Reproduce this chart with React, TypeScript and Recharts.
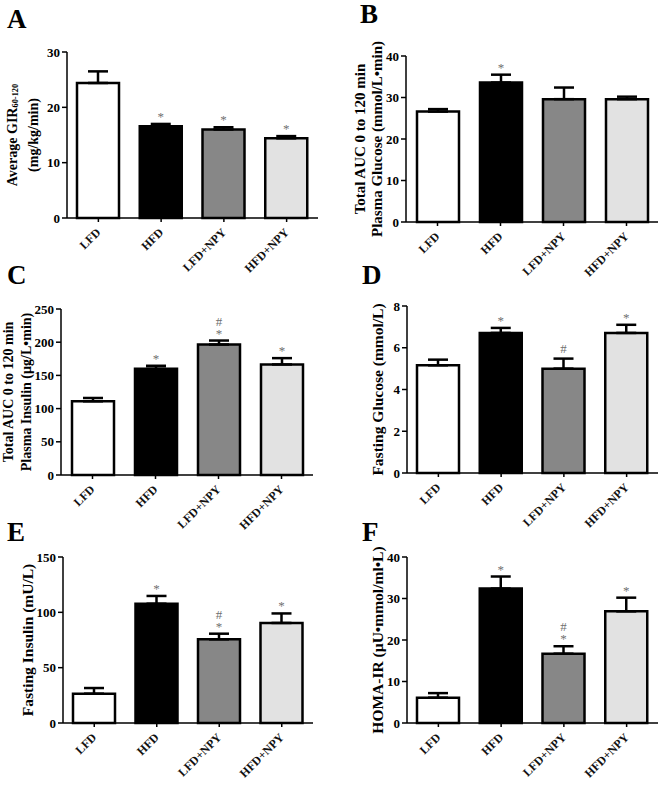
import React from "react";
import { BarChart, Bar, XAxis, YAxis, ErrorBar, Cell, LabelList } from "recharts";

// Groups shared by all six panels
const groups = ["LFD", "HFD", "LFD+NPY", "HFD+NPY"];

// A: average GIR 60-120
const girMean = [24.4, 16.6, 16.0, 14.4];
const girErr = [2.1, 0.4, 0.4, 0.4];
const girMarks = ["", "*", "*", "*"];
const girTicks = [0, 10, 20, 30];

// B: plasma glucose AUC
const glucAucMean = [26.6, 33.6, 29.6, 29.6];
const glucAucErr = [0.6, 1.9, 2.8, 0.6];
const glucAucMarks = ["", "*", "", ""];
const glucAucTicks = [0, 10, 20, 30, 40];

// C: plasma insulin AUC
const insAucMean = [111, 160, 196.5, 166.5];
const insAucErr = [5, 4.5, 6, 9.5];
const insAucMarks = ["", "*", "#*", "*"];
const insAucTicks = [0, 50, 100, 150, 200, 250];

// D: fasting glucose
const fastGlucMean = [5.16, 6.71, 5.0, 6.71];
const fastGlucErr = [0.27, 0.24, 0.48, 0.39];
const fastGlucMarks = ["", "*", "#", "*"];
const fastGlucTicks = [0, 2, 4, 6, 8];

// E: fasting insulin
const fastInsMean = [26.5, 107.8, 75.6, 90.4];
const fastInsErr = [5.1, 7, 5.1, 8.6];
const fastInsMarks = ["", "*", "#*", "*"];
const fastInsTicks = [0, 50, 100, 150];

// F: HOMA-IR
const homaMean = [6.1, 32.4, 16.7, 26.9];
const homaErr = [1.1, 2.9, 1.8, 3.3];
const homaMarks = ["", "*", "#*", "*"];
const homaTicks = [0, 10, 20, 30, 40];

const fills = ["#ffffff", "#000000", "#878787", "#e2e2e2"];
const FONT = "'Liberation Serif', 'Times New Roman', serif";

type Line = { text: string; sub?: string };
type Row = { group: string; mean: number; err: number[]; mark: string };

const AxisTitle = (props: any) => {
  const { viewBox, lines, xs, size } = props;
  const cy = viewBox ? viewBox.y + viewBox.height / 2 : 130;
  return (
    <g>
      {lines.map((ln: Line, i: number) => (
        <text
          key={i}
          x={xs[i]}
          y={cy}
          transform={`rotate(-90, ${xs[i]}, ${cy})`}
          textAnchor="middle"
          dominantBaseline="central"
          fontSize={size}
          fontWeight="bold"
          fontFamily={FONT}
          fill="#000"
        >
          {ln.text}
          {ln.sub && (
            <tspan fontSize={size * 0.6} dy={3}>
              {ln.sub}
            </tspan>
          )}
        </text>
      ))}
    </g>
  );
};

// slanted group names, right end just under the tick
const renderGroupTick = (props: any) => {
  const { x, y, payload } = props;
  return (
    <g transform={`translate(${Number(x) + 3}, ${Number(y) + 9})`}>
      <text
        x={0}
        y={0}
        transform="rotate(-45)"
        textAnchor="end"
        fontSize={12}
        fontWeight="bold"
        fontFamily={FONT}
        fill="#111"
      >
        {payload.value}
      </text>
    </g>
  );
};

// star / hash marks sit just above each error bar
const markContent = (rows: Row[]) => (props: any) => {
  const { x, y, width, height, index } = props;
  const row = rows[index];
  if (!row || !row.mark) return null;
  const unit = Number(height) / row.mean;
  const top = Number(y) - row.err[1] * unit;
  const cx = Number(x) + Number(width) / 2;
  const style = { fontSize: 13, fontFamily: FONT, fill: "#707070" };
  if (row.mark === "#*") {
    return (
      <g>
        <text x={cx} y={top - 15} textAnchor="middle" {...style}>#</text>
        <text x={cx} y={top - 3} textAnchor="middle" {...style}>*</text>
      </g>
    );
  }
  if (row.mark === "#") {
    return <text x={cx} y={top - 6} textAnchor="middle" {...style}>#</text>;
  }
  return <text x={cx} y={top - 3} textAnchor="middle" {...style}>*</text>;
};

interface PanelProps {
  left: number;
  top: number;
  width: number;
  height: number;
  axisWidth: number;
  marginTop: number;
  marginRight: number;
  mean: number[];
  err: number[];
  marks: string[];
  ticks: number[];
  lines: Line[];
  titleXs: number[];
  titleSize: number;
}

const Panel = (p: PanelProps) => {
  const rows: Row[] = groups.map((g, i) => ({
    group: g,
    mean: p.mean[i],
    err: [0, p.err[i]],
    mark: p.marks[i],
  }));
  return (
    <div style={{ position: "absolute", left: p.left, top: p.top }}>
      <BarChart
        width={p.width}
        height={p.height}
        data={rows}
        margin={{ top: p.marginTop, right: p.marginRight, left: 0, bottom: 20 }}
        barSize={42}
      >
        <XAxis
          dataKey="group"
          interval={0}
          height={50}
          tickSize={4}
          axisLine={{ stroke: "#000", strokeWidth: 1.5 }}
          tickLine={{ stroke: "#000", strokeWidth: 1.5 }}
          tick={renderGroupTick}
        />
        <YAxis
          width={p.axisWidth}
          domain={[0, p.ticks[p.ticks.length - 1]]}
          ticks={p.ticks}
          interval={0}
          tickSize={5}
          axisLine={{ stroke: "#000", strokeWidth: 1.5 }}
          tickLine={{ stroke: "#000", strokeWidth: 1.5 }}
          tick={{ fill: "#000", fontSize: 13, fontWeight: "bold", fontFamily: FONT }}
          label={<AxisTitle lines={p.lines} xs={p.titleXs} size={p.titleSize} />}
        />
        <Bar dataKey="mean" stroke="#000" strokeWidth={2.5} isAnimationActive={false}>
          {rows.map((r, i) => (
            <Cell key={r.group} fill={fills[i]} />
          ))}
          <ErrorBar dataKey="err" direction="y" width={10} stroke="#000" strokeWidth={2.5} />
          <LabelList dataKey="mark" content={markContent(rows)} />
        </Bar>
      </BarChart>
    </div>
  );
};

const letters = [
  { t: "A", x: 7, y: 28 },
  { t: "B", x: 360, y: 23 },
  { t: "C", x: 7, y: 284 },
  { t: "D", x: 362, y: 284 },
  { t: "E", x: 7, y: 541 },
  { t: "F", x: 362, y: 541 },
];

export default function App() {
  return (
    <div style={{ position: "absolute", left: 0, top: 0, width: 660, height: 786, background: "#fff" }}>
      <Panel
        left={0} top={0} width={330} height={288} axisWidth={67} marginTop={52} marginRight={12}
        mean={girMean} err={girErr} marks={girMarks} ticks={girTicks}
        lines={[{ text: "Average GIR", sub: "60-120" }, { text: "(mg/kg/min)" }]} titleXs={[12, 33]} titleSize={14}
      />
      <Panel
        left={330} top={0} width={330} height={292} axisWidth={76} marginTop={56} marginRight={2}
        mean={glucAucMean} err={glucAucErr} marks={glucAucMarks} ticks={glucAucTicks}
        lines={[{ text: "Total AUC 0 to 120 min" }, { text: "Plasma Glucose (mmol/L•min)" }]} titleXs={[30, 47]} titleSize={15}
      />
      <Panel
        left={0} top={262} width={330} height={283} axisWidth={61} marginTop={47} marginRight={17}
        mean={insAucMean} err={insAucErr} marks={insAucMarks} ticks={insAucTicks}
        lines={[{ text: "Total AUC 0 to 120 min" }, { text: "Plasma Insulin (µg/L•min)" }]} titleXs={[8, 26]} titleSize={14}
      />
      <Panel
        left={330} top={262} width={330} height={281} axisWidth={77} marginTop={44} marginRight={2}
        mean={fastGlucMean} err={fastGlucErr} marks={fastGlucMarks} ticks={fastGlucTicks}
        lines={[{ text: "Fasting Glucose (mmol/L)" }]} titleXs={[47]} titleSize={15.5}
      />
      <Panel
        left={0} top={524} width={330} height={269} axisWidth={63} marginTop={33} marginRight={17}
        mean={fastInsMean} err={fastInsErr} marks={fastInsMarks} ticks={fastInsTicks}
        lines={[{ text: "Fasting Insulin (mU/L)" }]} titleXs={[27]} titleSize={15.5}
      />
      <Panel
        left={330} top={524} width={330} height={269} axisWidth={77} marginTop={33} marginRight={2}
        mean={homaMean} err={homaErr} marks={homaMarks} ticks={homaTicks}
        lines={[{ text: "HOMA-IR (µU•mmol/ml•L)" }]} titleXs={[47]} titleSize={15.5}
      />
      <svg width={660} height={786} style={{ position: "absolute", left: 0, top: 0, pointerEvents: "none" }}>
        {letters.map((l) => (
          <text key={l.t} x={l.x} y={l.y} fontSize={27} fontWeight="bold" fontFamily={FONT} fill="#000">
            {l.t}
          </text>
        ))}
      </svg>
    </div>
  );
}
